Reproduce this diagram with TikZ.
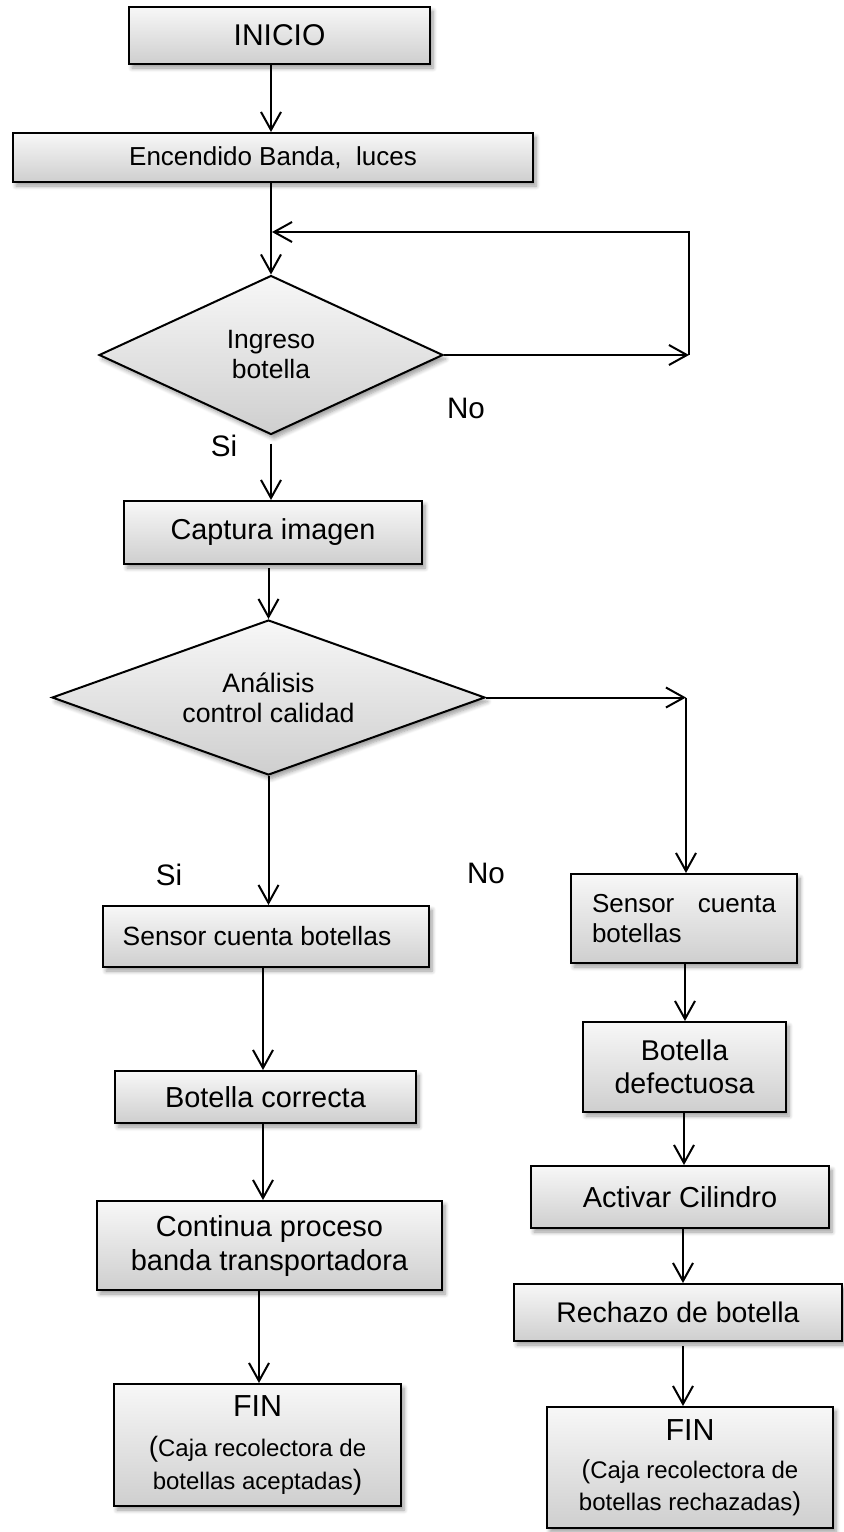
\documentclass[tikz,border=0pt]{standalone}
\usepackage{fontspec}
\setmainfont{Liberation Sans}
\usetikzlibrary{shapes.geometric,arrows.meta,shadows.blur}
\newcommand{\fsz}[2]{\fontsize{#1}{#2}\selectfont}
\begin{document}
\begin{tikzpicture}[x=0.5pt,y=-0.5pt,
  box/.style={draw=black, line width=1pt, rectangle, inner sep=0pt,
    top color=gray!6, bottom color=gray!38,
    blur shadow={shadow xshift=1.5pt, shadow yshift=-2pt, shadow blur steps=6, shadow opacity=40},
    align=center},
  dec/.style={box, diamond},
  arr/.style={line width=1pt, -{Straight Barb[length=9pt,width=10pt]}},
  lbl/.style={font=\fsz{14.8}{17}}
]
\useasboundingbox (0,0) rectangle (843,1532);

% nodes
\node[box, minimum width=150.5pt, minimum height=28.5pt, font=\fsz{15}{18}] (inicio) at (279.5,35.5) {INICIO};
\node[box, minimum width=260pt, minimum height=24.5pt, font=\fsz{13}{15}] (enc) at (273,157.5) {Encendido Banda,\ \ luces};
\node[dec, aspect=2.16, minimum width=172pt, minimum height=79.5pt, font=\fsz{13.25}{15}] (d1) at (271,355) {Ingreso\\botella};
\node[box, minimum width=149pt, minimum height=31.5pt, font=\fsz{14.4}{17}] (cap) at (273,532.5) {Captura imagen};
\node[dec, aspect=2.8, minimum width=216.5pt, minimum height=77.5pt, font=\fsz{13.35}{15}] (d2) at (268.5,697.5) {Análisis\\control calidad};
\node[box, minimum width=163pt, minimum height=30.5pt, font=\fsz{13.2}{15}] (sensL) at (266,936.5) {Sensor cuenta botellas\hspace*{9pt}};
\node[box, minimum width=113pt, minimum height=44.5pt, font=\fsz{13}{15}, align=left] (sensR) at (684,918.5) {\makebox[92pt][l]{Sensor\hfill cuenta}\\botellas};
\node[box, minimum width=150.5pt, minimum height=26pt, font=\fsz{14.45}{17}] (bcor) at (265.5,1097) {Botella correcta};
\node[box, minimum width=101.5pt, minimum height=45pt, font=\fsz{14.3}{16.5}] (bdef) at (684.5,1067) {Botella\\defectuosa};
\node[box, minimum width=172.5pt, minimum height=44.5pt, font=\fsz{14.5}{17}] (cont) at (269.5,1245.5) {Continua proceso\\banda transportadora};
\node[box, minimum width=149pt, minimum height=31pt, font=\fsz{14.45}{17}] (act) at (680,1197) {Activar Cilindro};
\node[box, minimum width=164pt, minimum height=28.5pt, font=\fsz{14.2}{17}] (rech) at (678,1312.5) {Rechazo de botella};
\node[box, minimum width=143.5pt, minimum height=61pt, font=\fsz{12}{16.5}] (finL) at (257.5,1445) {{\fsz{15.2}{18}FIN}\\[3.5pt]{\fsz{14}{16.5}(}Caja recolectora de\\botellas aceptadas{\fsz{14}{16.5})}};
\node[box, minimum width=143pt, minimum height=60.5pt, font=\fsz{12}{16}] (finR) at (690,1467.5) {{\fsz{15.2}{18}FIN}\\[3pt]{\fsz{13}{16}(}Caja recolectora de\\botellas rechazadas{\fsz{13}{16})}};

% labels
\node[lbl] (no1) at (466,408) {No};
\node[lbl] (si1) at (224,446) {Si};
\node[lbl] (si2) at (169,875) {Si};
\node[lbl] (no2) at (486,873) {No};

% helper coordinates
\coordinate (l1r) at (689,355);
\coordinate (l1t) at (689,232);
\coordinate (l1l) at (272,232);
\coordinate (l2) at (686,697.5);
\coordinate (x271) at (271,0);
\coordinate (x263) at (263,0);
\coordinate (x259) at (259,0);
\coordinate (x685) at (685,0);
\coordinate (x684) at (684,0);
\coordinate (x683) at (683,0);

% connectors
\draw[arr] (inicio.south -| x271) -- (enc.north -| x271);
\draw[arr] (enc.south -| d1.north) -- (d1.north);
\draw[arr] (d1.east) -- (l1r);
\draw[arr] (l1r) -- (l1t) -- (l1l);
\draw[arr] ([yshift=-4pt]d1.south) -- (d1.south |- cap.north);
\draw[arr] ([yshift=-1.5pt]cap.south -| d2.north) -- (d2.north);
\draw[arr] (d2.east) -- (l2);
\draw[arr] (l2) -- (l2 |- sensR.north);
\draw[arr] (d2.south) -- (d2.south |- sensL.north);
\draw[arr] (sensL.south -| x263) -- (bcor.north -| x263);
\draw[arr] (bcor.south -| x263) -- (cont.north -| x263);
\draw[arr] (cont.south -| x259) -- (finL.north -| x259);
\draw[arr] (sensR.south -| x685) -- (bdef.north -| x685);
\draw[arr] (bdef.south -| x684) -- (act.north -| x684);
\draw[arr] (act.south -| x683) -- (rech.north -| x683);
\draw[arr] ([yshift=-2pt]rech.south -| x683) -- (finR.north -| x683);
\end{tikzpicture}
\end{document}
